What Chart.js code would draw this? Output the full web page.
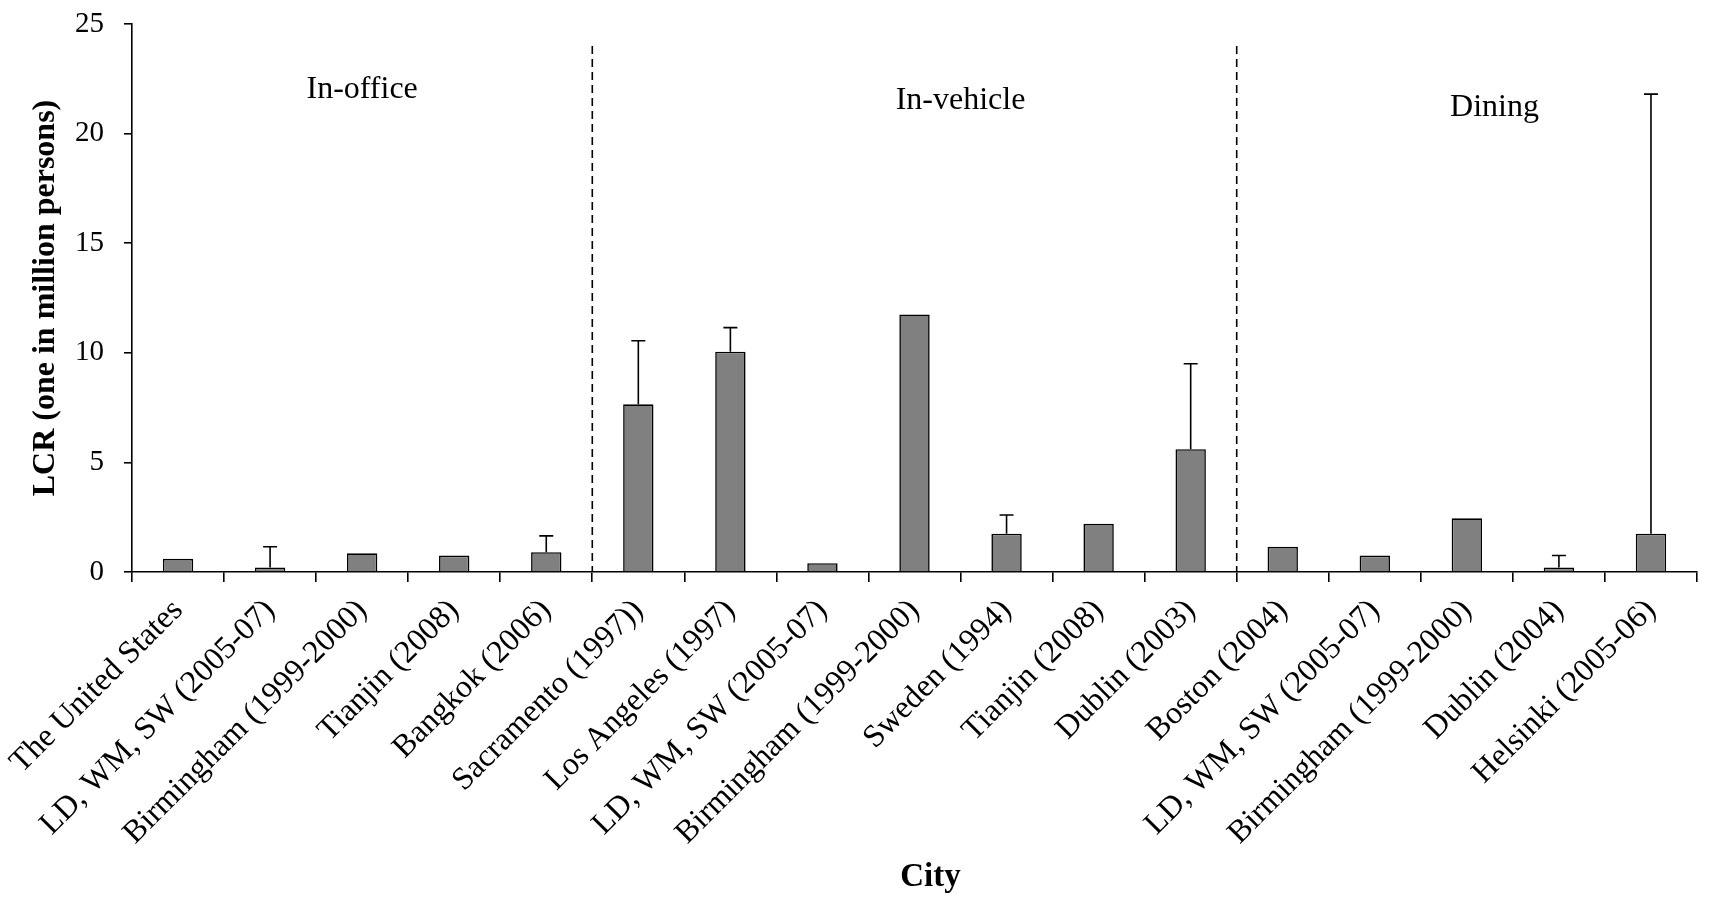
<!DOCTYPE html>
<html>
<head>
<meta charset="utf-8">
<script src="https://cdn.jsdelivr.net/npm/chart.js@4.4.0/dist/chart.umd.min.js"></script>
<style>
  html, body { margin: 0; padding: 0; background: #fff; }
  canvas { display: block; }
</style>
</head>
<body>
<canvas id="lcr-chart" width="1719" height="897"></canvas>
<script>
// city / study labels, left to right
const cities = [
  'The United States', 'LD, WM, SW (2005-07)', 'Birmingham (1999-2000)', 'Tianjin (2008)', 'Bangkok (2006)',
  'Sacramento (1997))', 'Los Angeles (1997)', 'LD, WM, SW (2005-07)', 'Birmingham (1999-2000)', 'Sweden (1994)',
  'Tianjin (2008)', 'Dublin (2003)',
  'Boston (2004)', 'LD, WM, SW (2005-07)', 'Birmingham (1999-2000)', 'Dublin (2004)', 'Helsinki (2005-06)'
];

// LCR bar heights (one in million persons)
const lcrValues = [0.6, 0.2, 0.85, 0.75, 0.9, 7.65, 10.05, 0.4, 11.75, 1.75, 2.2, 5.6, 1.15, 0.75, 2.45, 0.2, 1.75];

// top of the upper error bar, null where there is none
const errorUpper = [null, 1.15, null, null, 1.65, 10.55, 11.15, null, null, 2.6, null, 9.5, null, null, null, 0.75, 21.8];

// microenvironment groups
const groupNames = ['In-office', 'In-vehicle', 'Dining'];

const yMax = 25;
const yStep = 5;

const black = '#000';
const serif = 'Liberation Serif';

Chart.defaults.font.family = serif;
Chart.defaults.color = black;

// draws the upper error bars with caps
const errorBarPlugin = {
  id: 'errorBars',
  afterDatasetsDraw(chart) {
    const ctx = chart.ctx;
    const meta = chart.getDatasetMeta(0);
    const yScale = chart.scales.y;
    ctx.save();
    ctx.strokeStyle = black;
    ctx.lineWidth = 1.6;
    errorUpper.forEach((top, i) => {
      if (top === null) return;
      const bar = meta.data[i];
      const yTop = yScale.getPixelForValue(top);
      ctx.beginPath();
      ctx.moveTo(bar.x, bar.y);
      ctx.lineTo(bar.x, yTop);
      ctx.moveTo(bar.x - 7, yTop);
      ctx.lineTo(bar.x + 7, yTop);
      ctx.stroke();
    });
    ctx.restore();
  }
};

// dashed separators between groups, the group names and the x title
const groupPlugin = {
  id: 'groups',
  afterDraw(chart, args, opts) {
    const ctx = chart.ctx;
    const xScale = chart.scales.x;
    const yScale = chart.scales.y;
    ctx.save();
    ctx.strokeStyle = black;
    ctx.lineWidth = 1.6;
    ctx.setLineDash([8, 5]);
    opts.dividers.forEach(d => {
      const x = xScale.getPixelForValue(d);
      ctx.beginPath();
      ctx.moveTo(x, yScale.getPixelForValue(opts.dividerTop));
      ctx.lineTo(x, yScale.getPixelForValue(0));
      ctx.stroke();
    });
    ctx.setLineDash([]);
    ctx.fillStyle = black;
    ctx.font = '32px "' + serif + '"';
    ctx.textAlign = 'center';
    ctx.textBaseline = 'middle';
    groupNames.forEach((name, i) => {
      const pos = opts.labelPos[i];
      ctx.fillText(name, xScale.getPixelForValue(pos[0]), yScale.getPixelForValue(pos[1]));
    });
    // x axis title sits a bit right of centre in the original
    ctx.font = 'bold 33px "' + serif + '"';
    ctx.fillText(opts.xTitle, (xScale.left + xScale.right) / 2 + 16, xScale.bottom - 20);
    ctx.restore();
  }
};

// fixed axis box sizes, no extra label padding pushing the plot around
function fixBox(size) {
  return s => {
    if (s.isHorizontal()) s.height = size; else s.width = size;
    s.paddingTop = 0;
    s.paddingBottom = 0;
    s.paddingLeft = 0;
    s.paddingRight = 0;
  };
}

new Chart(document.getElementById('lcr-chart').getContext('2d'), {
  type: 'bar',
  data: {
    labels: cities,
    datasets: [{
      label: 'LCR',
      data: lcrValues,
      backgroundColor: '#808080',
      borderColor: black,
      borderWidth: 1.6,
      barPercentage: 0.33,
      categoryPercentage: 1
    }]
  },
  options: {
    responsive: false,
    animation: false,
    layout: { padding: { top: 24, right: 22, bottom: 0, left: 0 } },
    plugins: {
      legend: { display: false },
      tooltip: { enabled: false },
      groups: {
        dividers: [4.5, 11.5],
        dividerTop: 24,
        labelPos: [[2, 22], [8.5, 21.5], [14.3, 21.2]],
        xTitle: 'City'
      }
    },
    scales: {
      x: {
        offset: true,
        grid: { offset: true, drawOnChartArea: false, drawTicks: true, tickLength: 10, color: black, lineWidth: 1.6 },
        border: { color: black, width: 1.6 },
        ticks: { autoSkip: false, maxRotation: 45, minRotation: 45, padding: 10, color: black, font: { size: 32 } },
        afterFit: fixBox(325)
      },
      y: {
        min: 0,
        max: yMax,
        ticks: { stepSize: yStep, padding: 20, color: black, font: { size: 29 } },
        grid: { drawOnChartArea: false, tickLength: 8, color: black, lineWidth: 1.6 },
        border: { color: black, width: 1.6 },
        title: { display: true, text: 'LCR (one in million persons)', color: black, font: { size: 32, weight: 'bold' }, padding: { top: 27, bottom: 0 } },
        afterFit: fixBox(132)
      }
    }
  },
  plugins: [errorBarPlugin, groupPlugin]
});
</script>
</body>
</html>
